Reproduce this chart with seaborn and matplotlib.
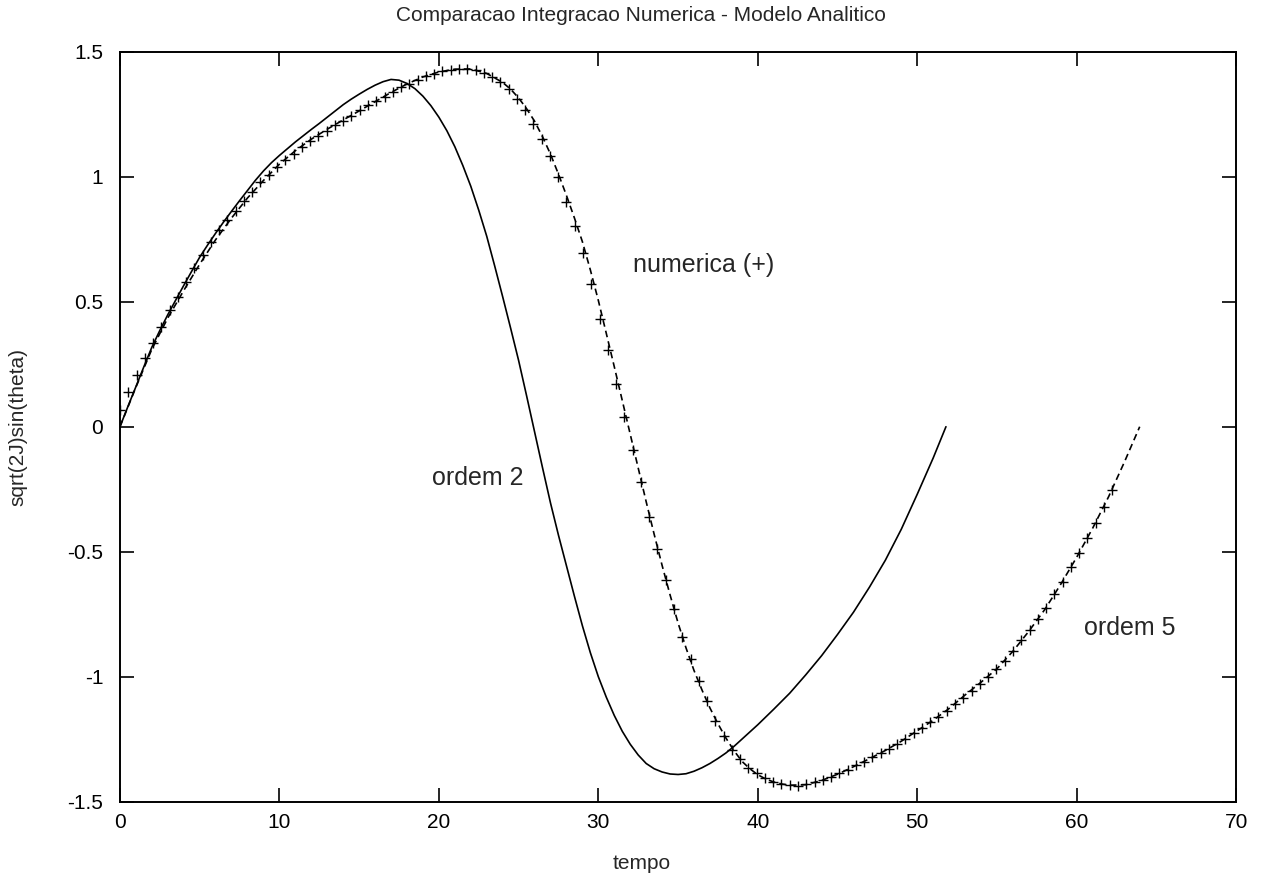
import seaborn as sns
import matplotlib.pyplot as plt
import pandas as pd

# ordem 2 (solid)
t_ordem2 = [0, 0.5, 1, 1.5, 2, 2.5, 3, 3.5, 4, 4.5, 5, 5.5, 6, 6.5, 7, 7.5, 8, 8.5, 9, 9.5,
            10, 10.5, 11, 11.5, 12, 12.5, 13, 13.5, 14, 14.5, 15, 15.5, 16, 16.5, 17, 17.5,
            18, 18.5, 19, 19.5, 20, 20.5, 21, 21.5, 22, 22.5, 23, 23.5, 24, 24.5, 25, 25.5,
            26, 26.5, 27, 27.5, 28, 28.5, 29, 29.5, 30, 30.5, 31, 31.5, 32, 32.5, 33, 33.5,
            34, 34.5, 35, 35.5, 36, 36.5, 37, 37.5, 38, 38.5, 39, 40, 41, 42, 43, 44,
            45, 46, 47, 48, 49, 50, 51, 51.8]
y_ordem2 = [0.000, 0.081, 0.160, 0.240, 0.318, 0.385, 0.448, 0.507, 0.565, 0.622,
            0.678, 0.727, 0.774, 0.819, 0.862, 0.904, 0.945, 0.986, 1.023, 1.056,
            1.085, 1.112, 1.139, 1.164, 1.189, 1.213, 1.238, 1.263, 1.288, 1.310,
            1.330, 1.349, 1.366, 1.380, 1.389, 1.386,
            1.373, 1.352, 1.322, 1.284, 1.238, 1.184, 1.120, 1.045, 0.962, 0.866,
            0.762, 0.643, 0.520, 0.394, 0.265, 0.124,
            -0.020, -0.164, -0.305, -0.434, -0.556, -0.678, -0.796, -0.904, -1.000, -1.082,
            -1.155, -1.218, -1.270, -1.313, -1.347, -1.368,
            -1.381, -1.389, -1.391, -1.388, -1.378, -1.364, -1.347, -1.327, -1.305, -1.279,
            -1.250, -1.192, -1.130, -1.066, -0.993, -0.916,
            -0.831, -0.742, -0.642, -0.534, -0.410, -0.270, -0.125, 0.000]

# ordem 5 (dashed)
t_ordem5 = [0, 1, 2, 3, 4, 5, 6, 7, 8, 9, 10, 11, 12, 13, 14, 15, 16, 17, 18, 19, 20,
            21, 22, 23, 24, 24.5, 25, 25.5, 26, 26.5, 27, 27.5, 28, 28.5, 29, 29.5, 30,
            30.5, 31, 31.5, 32, 32.5, 33, 33.5, 34, 34.5, 35, 35.5, 36, 36.5, 37, 37.5,
            38, 38.5, 39, 39.5, 40, 40.5, 41, 41.5, 42, 43, 44, 45, 46, 47, 48, 49, 50,
            51, 52, 53, 54, 55, 56, 57, 58, 59, 60, 61, 62, 63, 63.95]
y_ordem5 = [0.000, 0.158, 0.310, 0.435, 0.545, 0.650, 0.748, 0.835, 0.915, 0.985, 1.050,
            1.104, 1.150, 1.190, 1.227, 1.263, 1.300, 1.337, 1.371, 1.399, 1.419,
            1.430, 1.431, 1.413, 1.377, 1.350, 1.315, 1.272, 1.222, 1.160, 1.090, 1.010,
            0.925, 0.835, 0.740, 0.627, 0.505,
            0.373, 0.240, 0.105, -0.030, -0.165, -0.300, -0.430, -0.555, -0.673, -0.785,
            -0.885, -0.975, -1.053, -1.125, -1.188,
            -1.245, -1.295, -1.338, -1.368, -1.392, -1.409, -1.421, -1.429, -1.434,
            -1.432, -1.415, -1.390, -1.360, -1.328, -1.295, -1.258, -1.216,
            -1.174, -1.127, -1.073, -1.022, -0.968, -0.898, -0.818, -0.731,
            -0.630, -0.522, -0.406, -0.280, -0.140, 0.000]

# numerica (+ markers)
t_num = [0.00, 0.52, 1.04, 1.56, 2.07, 2.59, 3.11, 3.63, 4.15, 4.67,
         5.19, 5.70, 6.22, 6.74, 7.26, 7.78, 8.30, 8.81, 9.33, 9.85,
         10.37, 10.89, 11.41, 11.93, 12.44, 12.96, 13.48, 14.00, 14.52, 15.04,
         15.56, 16.07, 16.59, 17.11, 17.63, 18.15, 18.67, 19.18, 19.70, 20.22,
         20.74, 21.26, 21.78, 22.30, 22.82, 23.33, 23.85, 24.37, 24.89, 25.41,
         25.93, 26.44, 26.96, 27.48, 28.00, 28.52, 29.04, 29.56, 30.08, 30.59,
         31.11, 31.63, 32.15, 32.67, 33.19, 33.71, 34.22, 34.74, 35.26, 35.78,
         36.30, 36.82, 37.33, 37.85, 38.37, 38.89, 39.41, 39.93, 40.44, 40.96,
         41.48, 42.00, 42.52, 43.04, 43.56, 44.07, 44.59, 45.11, 45.63, 46.15,
         46.67, 47.19, 47.70, 48.22, 48.74, 49.26, 49.78, 50.30, 50.81, 51.33,
         51.85, 52.37, 52.89, 53.41, 53.92, 54.44, 54.96, 55.48, 56.00, 56.52,
         57.04, 57.55, 58.07, 58.59, 59.11, 59.63, 60.15, 60.67, 61.18, 61.70,
         62.22]
y_num = [0.067, 0.140, 0.207, 0.273, 0.336, 0.400, 0.465, 0.520, 0.580, 0.635,
         0.688, 0.737, 0.786, 0.825, 0.864, 0.904, 0.940, 0.977, 1.008, 1.038,
         1.068, 1.092, 1.117, 1.141, 1.163, 1.184, 1.205, 1.224, 1.243, 1.265,
         1.285, 1.302, 1.320, 1.340, 1.358, 1.371, 1.388, 1.401, 1.412, 1.421,
         1.427, 1.431, 1.431, 1.426, 1.415, 1.399, 1.379, 1.352, 1.312, 1.265,
         1.211, 1.150, 1.082, 1.000, 0.900, 0.802, 0.695, 0.570, 0.430, 0.305,
         0.170, 0.040, -0.093, -0.222, -0.360, -0.490, -0.613, -0.731, -0.840, -0.930,
         -1.018, -1.097, -1.176, -1.236, -1.292, -1.331, -1.364, -1.385, -1.407, -1.420,
         -1.428, -1.434, -1.436, -1.431, -1.423, -1.414, -1.401, -1.386, -1.372, -1.355,
         -1.340, -1.322, -1.305, -1.288, -1.269, -1.249, -1.225, -1.205, -1.183, -1.160,
         -1.136, -1.111, -1.085, -1.058, -1.030, -1.001, -0.970, -0.936, -0.898, -0.854,
         -0.815, -0.771, -0.725, -0.671, -0.620, -0.561, -0.505, -0.446, -0.386, -0.321,
         -0.253]

x_ticks = [0, 10, 20, 30, 40, 50, 60, 70]
y_ticks = [-1.5, -1, -0.5, 0, 0.5, 1, 1.5]
y_tick_labels = ["-1.5", "-1", "-0.5", "0", "0.5", "1", "1.5"]

sns.set_style("white")
plt.rcParams['font.family'] = ['Liberation Sans', 'DejaVu Sans']

df2 = pd.DataFrame({"tempo": t_ordem2, "valor": y_ordem2})
df5 = pd.DataFrame({"tempo": t_ordem5, "valor": y_ordem5})
dfn = pd.DataFrame({"tempo": t_num, "valor": y_num})

fig = plt.figure(figsize=(12.83, 8.82), dpi=100)
ax = fig.add_axes([0.0935, 0.091, 0.870, 0.8504])

sns.lineplot(x="tempo", y="valor", data=df2, ax=ax, color="black", linewidth=1.2,
             sort=False, estimator=None)
sns.lineplot(x="tempo", y="valor", data=df5, ax=ax, color="black", linewidth=1.2,
             sort=False, estimator=None, linestyle=(0, (4, 2.5)))
sns.scatterplot(x="tempo", y="valor", data=dfn, ax=ax, marker="+", s=45,
                color="black", linewidth=1.0, zorder=3)

ax.set_xlim(0, 70)
ax.set_ylim(-1.5, 1.5)
ax.set_xticks(x_ticks)
ax.set_yticks(y_ticks)
ax.set_yticklabels(y_tick_labels)
ax.tick_params(direction="in", length=10, width=1.2, labelsize=15, colors="black",
               bottom=True, left=True, top=True, right=True)
ax.tick_params(axis="x", pad=8)
ax.tick_params(axis="y", pad=12)
for s in ax.spines.values():
    s.set_linewidth(1.4)
    s.set_color("black")

# gnuplot centres title and xlabel on the whole canvas, not the plot box
ax.set_title("Comparacao Integracao Numerica - Modelo Analitico", fontsize=15, pad=22,
             x=0.467)
ax.set_xlabel("tempo", fontsize=15)
ax.set_ylabel("sqrt(2J)sin(theta)", fontsize=15)
ax.xaxis.set_label_coords(0.467, -0.07)
ax.yaxis.set_label_coords(-0.083, 0.5)

ax.text(32.2, 0.618, "numerica (+)", fontsize=18)
ax.text(19.55, -0.233, "ordem 2", fontsize=18)
ax.text(60.44, -0.833, "ordem 5", fontsize=18)

plt.savefig("out.png", dpi=100)
